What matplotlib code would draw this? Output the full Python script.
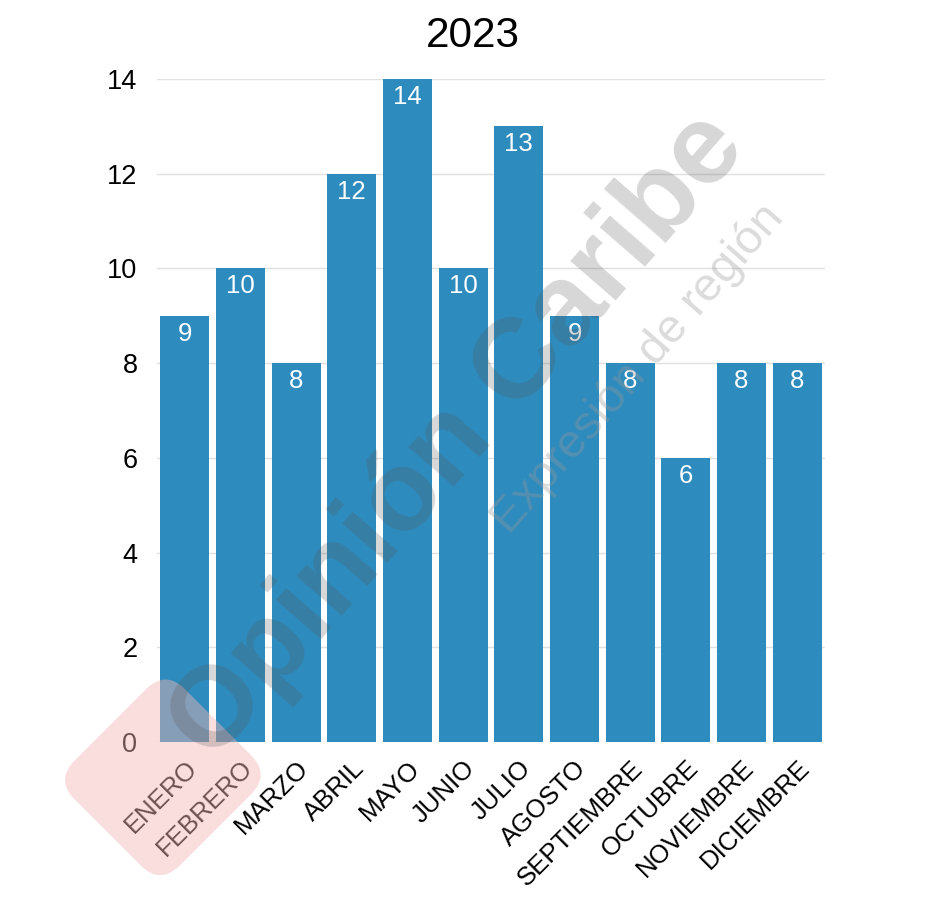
import numpy as np
import matplotlib as mpl
mpl.use('Agg')
import matplotlib.pyplot as plt
from matplotlib.patches import FancyBboxPatch
import matplotlib.transforms as mtransforms

months = ['ENERO', 'FEBRERO', 'MARZO', 'ABRIL', 'MAYO', 'JUNIO', 'JULIO',
          'AGOSTO', 'SEPTIEMBRE', 'OCTUBRE', 'NOVIEMBRE', 'DICIEMBRE']
counts = [9, 10, 8, 12, 14, 10, 13, 9, 8, 6, 8, 8]
yticks = [0, 2, 4, 6, 8, 10, 12, 14]
title = '2023'

plt.rcParams['font.family'] = ['Liberation Sans', 'DejaVu Sans']

fig = plt.figure(figsize=(9.45, 9.01), dpi=100)
ax = fig.add_axes([0.166, 0.1765, 0.707, 0.7358])

x = np.arange(len(months))
bars = ax.bar(x, counts, width=0.88, color='#2e8bbd', zorder=2)
for xi, v in zip(x, counts):
    ax.annotate(str(v), (xi, v), xytext=(0, -13), textcoords='offset points',
                ha='center', va='center', color='white', fontsize=18.5,
                zorder=3)

ax.set_xlim(-0.5, len(months) - 0.5)
ax.set_ylim(0, 14)
ax.set_yticks(yticks)
ax.set_yticklabels([str(t) for t in yticks], fontsize=19.5)
ax.set_xticks(x)
ax.set_xticklabels(months, rotation=45, ha='right', rotation_mode='anchor',
                   fontsize=18.5)
ax.tick_params(axis='both', length=0)
ax.tick_params(axis='y', pad=14)
ax.tick_params(axis='x', pad=10)
ax.yaxis.grid(True, color='#e0e0e0', linewidth=1, zorder=0)
for s in ax.spines.values():
    s.set_visible(False)
fig.suptitle(title, fontsize=30.5, y=0.982, va='top')

# watermark
sq = FancyBboxPatch((0.07, 0.07), 0.165, 0.165,
                    boxstyle='round,pad=0,rounding_size=0.03',
                    transform=fig.transFigure, facecolor='#f4b6b6',
                    edgecolor='none', alpha=0.45, zorder=5)
rot = mtransforms.Affine2D().rotate_deg_around(0.18 * 9.45 * 100,
                                               0.17 * 9.01 * 100, 45)
sq.set_transform(fig.transFigure + rot)
fig.patches.append(sq)
fig.text(0.485, 0.515, 'Opinión Caribe', rotation=49, fontsize=82,
         fontweight='bold', color='#555555', alpha=0.24,
         ha='center', va='center', zorder=6)
fig.text(0.675, 0.59, 'Expresión de región', rotation=49, fontsize=34,
         color='#999999', alpha=0.35, ha='center', va='center', zorder=6)

fig.savefig('out.png', dpi=100)
